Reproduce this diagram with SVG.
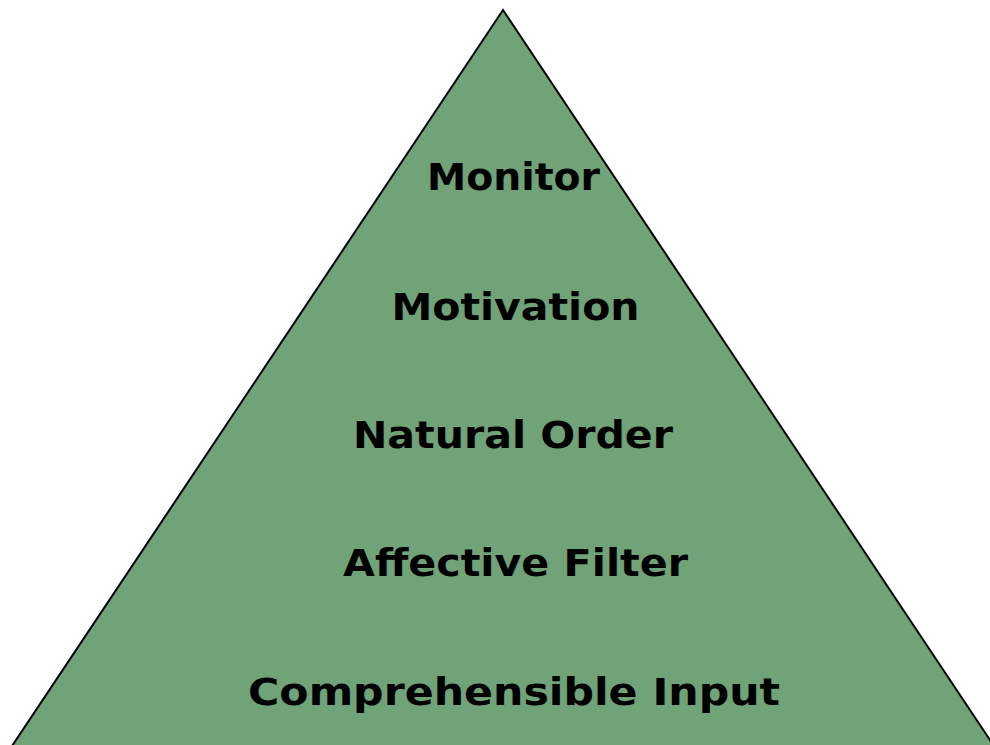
<svg xmlns="http://www.w3.org/2000/svg" width="990" height="745" viewBox="0 0 990 745">
<style>
.lbl{font-family:"DejaVu Sans",Verdana,sans-serif;font-weight:bold;font-size:37px;fill:#000;text-anchor:middle}
</style>
<rect x="0" y="0" width="990" height="745" fill="#ffffff"/>
<g id="pyramid">
<polygon points="503,10 12,746 994,746" fill="#70a377" stroke="#000" stroke-width="2" stroke-linejoin="miter"/>
</g>
<g id="labels">
<text id="monitor" class="lbl" x="513.5" y="190" textLength="173" lengthAdjust="spacingAndGlyphs">Monitor</text>
<text id="motivation" class="lbl" x="515.5" y="320" textLength="248" lengthAdjust="spacingAndGlyphs">Motivation</text>
<text id="natural-order" class="lbl" x="513" y="448" textLength="320" lengthAdjust="spacingAndGlyphs">Natural Order</text>
<text id="affective-filter" class="lbl" x="515.5" y="576" textLength="345" lengthAdjust="spacingAndGlyphs">Affective Filter</text>
<text id="comprehensible-input" class="lbl" x="514" y="705" textLength="532" lengthAdjust="spacingAndGlyphs">Comprehensible Input</text>
</g>
</svg>
